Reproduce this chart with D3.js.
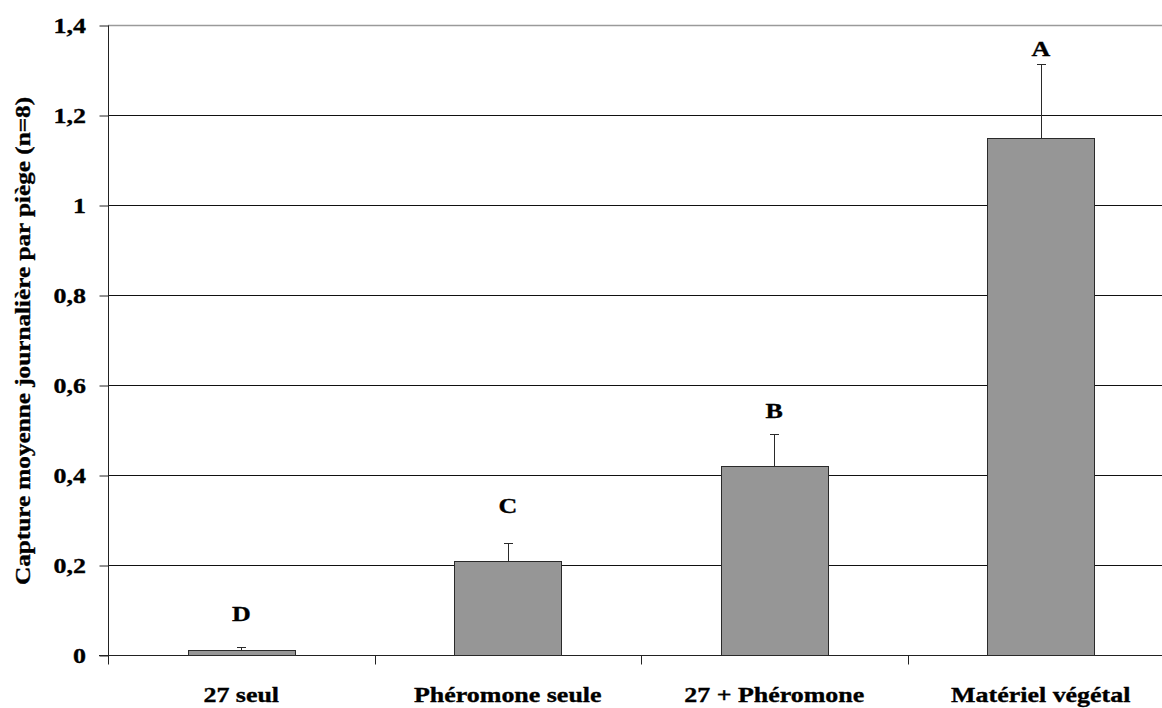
<!DOCTYPE html>
<html>
<head>
<meta charset="utf-8">
<script src="https://cdn.jsdelivr.net/npm/d3@7"></script>
<style>
  html, body { margin: 0; padding: 0; background: #fff; }
  svg { display: block; }
  text { font-family: "Liberation Serif", "Times New Roman", serif; font-weight: bold; fill: #000;
         stroke: #000; stroke-width: 0.35px; }
</style>
</head>
<body>
<svg id="chart" width="1162" height="708"></svg>
<script>
// Treatments and mean daily catch per trap (n = 8)
const categories = ["27 seul", "Phéromone seule", "27 + Phéromone", "Matériel végétal"];
const means = [0.012, 0.208, 0.420, 1.149];
const errors = [0.005, 0.041, 0.070, 0.165];
// Significance letters and the height (in data units) of their baseline
const letters = ["D", "C", "B", "A"];
const letterLevels = [0.0745, 0.316, 0.527, 1.331];
const yTicks = [0, 0.2, 0.4, 0.6, 0.8, 1, 1.2, 1.4];
const yTitle = "Capture moyenne journalière par piège (n=8)";

const svg = d3.select("#chart");
const plotLeft = 108, plotRight = 1174, plotTop = 25, plotBottom = 655;
const stretch = 1.18;

const x = d3.scaleBand().domain(categories).range([plotLeft, plotRight])
  .paddingInner(0.6).paddingOuter(0.3);
const y = d3.scaleLinear().domain([0, 1.4]).range([plotBottom, plotTop]);
const fmt = d => String(+d.toFixed(1)).replace(".", ",");

// Horizontal gridlines
svg.append("g").selectAll("line").data(yTicks.filter(d => d > 0)).join("line")
  .attr("x1", plotLeft).attr("x2", plotRight)
  .attr("y1", d => Math.round(y(d)) + 0.5).attr("y2", d => Math.round(y(d)) + 0.5)
  .attr("stroke", d => d === 1.4 ? "#9a9a9a" : "#111")
  .attr("stroke-width", d => d === 1.4 ? 1.6 : 1);

// Y axis
const yAxis = svg.append("g").attr("transform", `translate(${plotLeft + 0.5},0.5)`)
  .call(d3.axisLeft(y).tickValues(yTicks).tickSize(9).tickFormat(""));
yAxis.select(".domain").attr("stroke", "#222").attr("d", `M0,${y(1.4)}V${y(0)}`);
yAxis.selectAll(".tick line").attr("stroke", "#222");

svg.append("g").selectAll("text").data(yTicks).join("text")
  .attr("text-anchor", "end")
  .attr("font-size", 22)
  .attr("transform", d => `translate(86,${y(d) + 8}) scale(${stretch},1)`)
  .text(fmt);

// X axis with ticks between categories
const step = x.step();
const xBounds = d3.range(0, categories.length + 1).map(i => plotLeft + i * step);
const xAxis = svg.append("g").attr("transform", `translate(0,${plotBottom + 0.5})`);
xAxis.append("line").attr("x1", plotLeft - 9).attr("x2", plotRight)
  .attr("stroke", "#222");
xAxis.selectAll("line.tk").data(xBounds).join("line").attr("class", "tk")
  .attr("x1", d => Math.round(d) + 0.5).attr("x2", d => Math.round(d) + 0.5)
  .attr("y1", 0).attr("y2", 9).attr("stroke", "#222");

svg.append("g").selectAll("text").data(categories).join("text")
  .attr("text-anchor", "middle")
  .attr("font-size", 22)
  .attr("transform", d => `translate(${x(d) + x.bandwidth() / 2},702) scale(${stretch},1)`)
  .text(d => d);

// Bars
svg.append("g").selectAll("rect").data(categories).join("rect")
  .attr("x", d => Math.round(x(d)) + 0.5)
  .attr("y", (d, i) => Math.round(y(means[i])) + 0.5)
  .attr("width", Math.round(x.bandwidth()))
  .attr("height", (d, i) => plotBottom - Math.round(y(means[i])))
  .attr("fill", "#969696")
  .attr("stroke", "#2a2a2a")
  .attr("stroke-width", 1);

// Upper error bars
const eb = svg.append("g").attr("stroke", "#2a2a2a").attr("stroke-width", 1);
categories.forEach((c, i) => {
  const cx = Math.round(x(c) + x.bandwidth() / 2) + 0.5;
  const yt = Math.round(y(means[i] + errors[i])) + 0.5;
  eb.append("line").attr("x1", cx).attr("x2", cx)
    .attr("y1", Math.round(y(means[i])) + 0.5).attr("y2", yt);
  eb.append("line").attr("x1", cx - 4.5).attr("x2", cx + 4.5)
    .attr("y1", yt).attr("y2", yt);
});

// Significance letters
svg.append("g").selectAll("text").data(letters).join("text")
  .attr("text-anchor", "middle")
  .attr("font-size", 22)
  .attr("transform", (d, i) => `translate(${x(categories[i]) + x.bandwidth() / 2},${y(letterLevels[i])}) scale(${stretch},1)`)
  .text(d => d);

// Y axis title
svg.append("text")
  .attr("text-anchor", "middle")
  .attr("font-size", 21)
  .attr("transform", `translate(30,${(plotTop + plotBottom) / 2 + 1}) rotate(-90) scale(1.2,1)`)
  .text(yTitle);
</script>
</body>
</html>
